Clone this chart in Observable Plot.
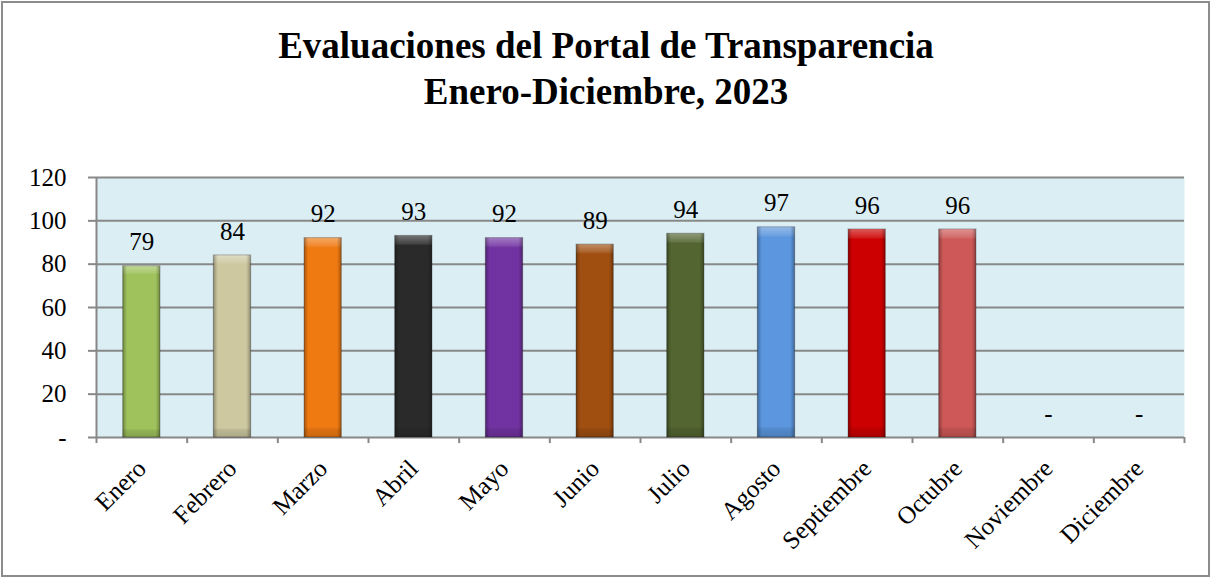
<!DOCTYPE html>
<html>
<head>
<meta charset="utf-8">
<script src="https://cdn.jsdelivr.net/npm/d3@7"></script>
<script src="https://cdn.jsdelivr.net/npm/@observablehq/plot@0.6"></script>
<style>
  html, body { margin: 0; padding: 0; background: #fff; }
  #wrap { position: relative; width: 1212px; height: 579px; overflow: hidden; font-family: 'Liberation Serif', 'Times New Roman', serif; }
  #border { position: absolute; left: 1px; top: 1px; width: 1209px; height: 576px; border: 2px solid #8c8c8c; box-sizing: border-box; }
  #title { position: absolute; left: 0; top: 23px; width: 1212px; text-align: center; font-family: 'Liberation Serif', 'Times New Roman', serif; font-weight: bold; font-size: 37px; line-height: 46px; color: #000; }
  #chart { position: absolute; left: 0; top: 130px; }
  #chart svg text { font-family: 'Liberation Serif', 'Times New Roman', serif; }
</style>
</head>
<body>
<div id="wrap">
  <div id="border"></div>
  <div id="title">Evaluaciones del Portal de Transparencia<br>Enero-Diciembre, 2023</div>
  <div id="chart"></div>
</div>
<script>
const months = ["Enero","Febrero","Marzo","Abril","Mayo","Junio","Julio","Agosto","Septiembre","Octubre","Noviembre","Diciembre"];
const values = [79, 84, 92, 93, 92, 89, 94, 97, 96, 96, 0, 0];
const colors = ["#9fc25c","#cdc8a0","#ef7a12","#2a2a2a","#7233a2","#a04f10","#536530","#5b96de","#cc0000","#cd5857","#ffffff","#ffffff"];
const yTicks = [0, 20, 40, 60, 80, 100, 120];

const data = months.map((m, i) => ({month: m, value: values[i], color: colors[i]}));
const barsData = data.filter(d => d.value > 0);

const W = 1212, H = 445;
const mL = 96, mR = 28, mT = 47, mB = 138;
const step = (W - mL - mR) / months.length;
const serif = "'Liberation Serif', 'Times New Roman', serif";

const defs = () => {
  const ns = "http://www.w3.org/2000/svg";
  const g = document.createElementNS(ns, "defs");
  g.innerHTML = `
    <linearGradient id="bevV" x1="0" y1="0" x2="0" y2="1">
      <stop offset="0" stop-color="#fff" stop-opacity="0.35"/>
      <stop offset="0.04" stop-color="#fff" stop-opacity="0.12"/>
      <stop offset="0.05" stop-color="#fff" stop-opacity="0"/>
      <stop offset="0.95" stop-color="#000" stop-opacity="0"/>
      <stop offset="0.96" stop-color="#000" stop-opacity="0.08"/>
      <stop offset="1" stop-color="#000" stop-opacity="0.16"/>
    </linearGradient>
    <linearGradient id="bevH" x1="0" y1="0" x2="1" y2="0">
      <stop offset="0" stop-color="#000" stop-opacity="0.3"/>
      <stop offset="0.09" stop-color="#000" stop-opacity="0.06"/>
      <stop offset="0.12" stop-color="#000" stop-opacity="0"/>
      <stop offset="0.88" stop-color="#000" stop-opacity="0"/>
      <stop offset="0.91" stop-color="#000" stop-opacity="0.06"/>
      <stop offset="1" stop-color="#000" stop-opacity="0.3"/>
    </linearGradient>`;
  return g;
};

const plot = Plot.plot({
  width: W,
  height: H,
  marginLeft: mL,
  marginRight: mR,
  marginTop: mT,
  marginBottom: mB,
  style: {fontFamily: serif, fontSize: "24px", color: "#000", background: "transparent", overflow: "visible"},
  x: {domain: months, paddingInner: 0.59, paddingOuter: 0.295, round: false, label: null},
  y: {domain: [0, 120], label: null},
  color: {type: "identity"},
  marks: [
    defs,
    Plot.frame({fill: "#dbeef4", stroke: null}),
    Plot.gridY(yTicks, {stroke: "#888888", strokeOpacity: 1, strokeWidth: 2}),
    Plot.ruleX([months[0]], {dx: -step / 2, stroke: "#888888", strokeWidth: 2}),
    Plot.ruleX(months, {x: d => d, dx: step / 2, y1: 0, y2: -2.8, stroke: "#888888", strokeWidth: 2, clip: false}),
    Plot.ruleX([months[0]], {dx: -step / 2, y1: 0, y2: -2.8, stroke: "#888888", strokeWidth: 2}),
    Plot.axisY(yTicks, {tickSize: 8, tickPadding: 22, stroke: "#888888", strokeWidth: 2, fontSize: 25, fontFamily: serif, tickFormat: d => d === 0 ? "-" : d}),
    Plot.axisX({tickSize: 0, tickPadding: 27, tickRotate: -45, fontSize: 25, fontFamily: serif}),
    Plot.barY(barsData, {x: "month", y: "value", fill: "color", stroke: "#00000044", strokeWidth: 1.2}),
    Plot.barY(barsData, {x: "month", y: "value", fill: "url(#bevV)"}),
    Plot.barY(barsData, {x: "month", y: "value", fill: "url(#bevH)"}),
    Plot.text(data, {x: "month", y: "value", text: d => d.value === 0 ? "-" : String(d.value), dy: -24, fontSize: 25, fontFamily: serif, fill: "#000"})
  ]
});
document.getElementById("chart").appendChild(plot);
</script>
</body>
</html>
